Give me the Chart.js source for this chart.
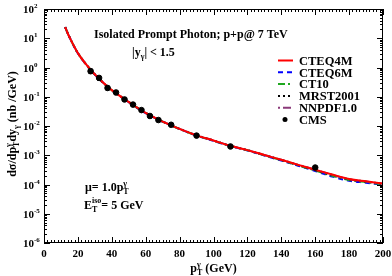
<!DOCTYPE html>
<html>
<head>
<meta charset="utf-8">
<script src="https://cdn.jsdelivr.net/npm/chart.js@4.4.0/dist/chart.umd.min.js"></script>
<style>
  html, body { margin: 0; padding: 0; background: #fff; }
</style>
</head>
<body>
<canvas id="myChart" width="392" height="276"></canvas>
<script>
// theory curves (pT in GeV, d sigma in nb/GeV)
const ptTheory = [12.5, 15, 20, 25, 30, 35, 40, 50, 60, 70, 80, 90, 100, 110, 120, 130, 140, 150, 160, 170, 180, 190, 200];
const cteq4m = [24, 11, 3.1, 1.25, 0.58, 0.30, 0.168, 0.066, 0.028, 0.0142, 0.0080, 0.0048, 0.0032, 0.0021, 0.00150, 0.00102, 0.00070, 0.00047, 0.00032, 0.00022, 0.000155, 0.000128, 0.000108];
const cteq6m = [24, 11, 3.05, 1.23, 0.57, 0.295, 0.165, 0.065, 0.0275, 0.0140, 0.0079, 0.0047, 0.0031, 0.00205, 0.00146, 0.00098, 0.00066, 0.00044, 0.00029, 0.000188, 0.000135, 0.000115, 0.000098];
const ct10 = [24, 11, 3.1, 1.24, 0.58, 0.30, 0.167, 0.066, 0.028, 0.0141, 0.0079, 0.0047, 0.00315, 0.00208, 0.00148, 0.00100, 0.00068, 0.00045, 0.00030, 0.000198, 0.000142, 0.000120, 0.000102];
const mrst2001 = [24, 11, 3.1, 1.25, 0.585, 0.30, 0.168, 0.066, 0.028, 0.0142, 0.0080, 0.0048, 0.0032, 0.0021, 0.00150, 0.00101, 0.00069, 0.00046, 0.00031, 0.00021, 0.000150, 0.000125, 0.000105];
const nnpdf10 = [24, 11, 3.1, 1.25, 0.58, 0.30, 0.168, 0.066, 0.028, 0.0142, 0.0080, 0.0048, 0.0032, 0.0021, 0.00150, 0.00102, 0.00070, 0.00047, 0.00032, 0.000215, 0.000152, 0.000126, 0.000106];

// CMS data
const ptCms = [27.5, 32.5, 37.5, 42.5, 47.5, 52.5, 57.5, 62.5, 67.5, 75, 90, 110, 160];
const cms = [0.75, 0.44, 0.20, 0.14, 0.081, 0.054, 0.035, 0.022, 0.016, 0.011, 0.0047, 0.0020, 0.00038];
const cmsErr = [0.13, 0.07, 0.03, 0.02, 0.01, 0.007, 0.004, 0.003, 0.002, 0.0012, 0.0005, 0.0002, 0.00004];

// axis ticks
const xTicks = [0, 20, 40, 60, 80, 100, 120, 140, 160, 180, 200];
const yExps = [-6, -5, -4, -3, -2, -1, 0, 1, 2];

const serif = '"Liberation Serif", "Times New Roman", serif';

function pts(xs, ys) {
    return xs.map((x, i) => ({ x: x, y: ys[i] }));
}

// draw text made of pieces (sub/superscripts); stack = reuse x of previous piece
function richText(ctx, parts, x, y, align) {
    let w = 0, px = 0, prevW = 0;
    parts.forEach(p => {
        ctx.font = 'bold ' + p.s + 'px ' + serif;
        const pw = ctx.measureText(p.t).width;
        if (p.stack) { w = Math.max(w, px - prevW + pw); px = Math.max(px, px - prevW + pw); }
        else { px += pw; w = px; prevW = pw; }
    });
    let cx = align === 'center' ? x - w / 2 : x;
    let start = cx;
    ctx.textAlign = 'left';
    ctx.textBaseline = 'alphabetic';
    parts.forEach(p => {
        ctx.font = 'bold ' + p.s + 'px ' + serif;
        const pw = ctx.measureText(p.t).width;
        if (p.stack) {
            ctx.fillText(p.t, start, y + (p.dy || 0));
            cx = Math.max(cx, start + pw);
        } else {
            start = cx;
            ctx.fillText(p.t, cx, y + (p.dy || 0));
            cx += pw;
        }
    });
}

const legendItems = [
    { label: 'CTEQ4M', color: '#ff0000', dash: [] },
    { label: 'CTEQ6M', color: '#0000ff', dash: [5, 4] },
    { label: 'CT10', color: '#1fa81f', dash: [7, 3, 2, 3] },
    { label: 'MRST2001', color: '#000000', dash: [2, 3] },
    { label: 'NNPDF1.0', color: '#8b3a7a', dash: [2, 3, 8, 2] },
    { label: 'CMS', color: '#000000', point: true }
];

const framePlugin = {
    id: 'frame',
    afterDatasetsDraw(chart) {
        const { ctx, scales: { x, y } } = chart;
        ctx.save();
        ctx.strokeStyle = '#000';
        ctx.lineWidth = 1;
        cms.forEach((v, i) => {
            const px = x.getPixelForValue(ptCms[i]);
            const y1 = y.getPixelForValue(v + cmsErr[i]);
            const y2 = y.getPixelForValue(v - cmsErr[i]);
            ctx.beginPath();
            ctx.moveTo(px, y1); ctx.lineTo(px, y2);
            ctx.moveTo(px - 2, y1); ctx.lineTo(px + 2, y1);
            ctx.moveTo(px - 2, y2); ctx.lineTo(px + 2, y2);
            ctx.stroke();
        });
        ctx.restore();
    },
    afterDraw(chart) {
        const { ctx, chartArea: a, scales: { x, y } } = chart;
        ctx.save();
        ctx.strokeStyle = '#000';
        ctx.fillStyle = '#000';
        ctx.lineWidth = 1;
        ctx.strokeRect(a.left + 0.5, a.top + 0.5, a.right - a.left - 1, a.bottom - a.top - 1);

        // x ticks (inward, top and bottom)
        ctx.beginPath();
        for (let v = 0; v <= 200; v += 2) {
            const px = Math.round(x.getPixelForValue(v)) + 0.5;
            const len = v % 20 === 0 ? 6 : 3;
            ctx.moveTo(px, a.bottom); ctx.lineTo(px, a.bottom - len);
            ctx.moveTo(px, a.top); ctx.lineTo(px, a.top + len);
        }
        // y ticks (log, inward, left and right)
        yExps.forEach(e => {
            for (let m = 1; m <= 9; m++) {
                if (e === 2 && m > 1) break;
                const py = Math.round(y.getPixelForValue(m * Math.pow(10, e))) + 0.5;
                const len = m === 1 ? 6 : 3;
                ctx.moveTo(a.left, py); ctx.lineTo(a.left + len, py);
                ctx.moveTo(a.right, py); ctx.lineTo(a.right - len, py);
            }
        });
        ctx.stroke();

        // tick labels
        ctx.font = 'bold 11px ' + serif;
        ctx.textAlign = 'center';
        ctx.textBaseline = 'alphabetic';
        xTicks.forEach(v => ctx.fillText(String(v), x.getPixelForValue(v), a.bottom + 14));
        yExps.forEach(e => {
            const py = y.getPixelForValue(Math.pow(10, e));
            ctx.font = 'bold 11px ' + serif;
            ctx.textAlign = 'right';
            ctx.fillText('10', a.left - 10, py + 4);
            ctx.font = 'bold 7px ' + serif;
            ctx.textAlign = 'left';
            ctx.fillText(String(e), a.left - 10, py - 1);
        });

        // axis titles
        richText(ctx, [
            { t: 'p', s: 12 }, { t: 'γ', s: 8, dy: -5 }, { t: 'T', s: 8, dy: 3, stack: true },
            { t: ' (GeV)', s: 12 }
        ], (a.left + a.right) / 2, a.bottom + 29, 'center');
        ctx.save();
        ctx.translate(16, 124);
        ctx.rotate(-Math.PI / 2);
        richText(ctx, [
            { t: 'dσ/dp', s: 12 }, { t: 'γ', s: 8, dy: -5 }, { t: 'T', s: 8, dy: 3, stack: true },
            { t: 'dy', s: 12 }, { t: 'γ', s: 8, dy: 3 }, { t: ' (nb /GeV)', s: 12 }
        ], 0, 0, 'center');
        ctx.restore();

        // annotations
        richText(ctx, [{ t: 'Isolated Prompt Photon; p+p@ 7 TeV', s: 12 }], 94, 38);
        richText(ctx, [{ t: '|y', s: 12 }, { t: 'γ', s: 8, dy: 3 }, { t: '| < 1.5', s: 12 }], 132, 56);
        richText(ctx, [{ t: 'μ= 1.0p', s: 12 }, { t: 'γ', s: 8, dy: -5 }, { t: 'T', s: 8, dy: 3, stack: true }], 85, 191);
        richText(ctx, [{ t: 'E', s: 12 }, { t: 'T', s: 8, dy: 3 }, { t: 'iso', s: 8, dy: -6, stack: true }, { t: '= 5 GeV', s: 12 }], 84, 209);

        // legend
        legendItems.forEach((it, i) => {
            const ly = 60.5 + i * 11.8;
            ctx.strokeStyle = it.color;
            ctx.fillStyle = it.color;
            if (it.point) {
                ctx.beginPath();
                ctx.arc(285, ly, 2.5, 0, Math.PI * 2);
                ctx.fill();
            } else {
                ctx.lineWidth = 2;
                ctx.setLineDash(it.dash);
                ctx.beginPath();
                ctx.moveTo(278, ly); ctx.lineTo(293, ly);
                ctx.stroke();
                ctx.setLineDash([]);
            }
            ctx.fillStyle = '#000';
            ctx.font = 'bold 12.5px ' + serif;
            ctx.textAlign = 'left';
            ctx.textBaseline = 'middle';
            ctx.fillText(it.label, 299, ly + 1);
        });
        ctx.restore();
    }
};

function curve(label, data, color, dash, order) {
    return {
        label: label,
        data: pts(ptTheory, data),
        borderColor: color,
        borderDash: dash,
        borderWidth: 2,
        pointRadius: 0,
        fill: false,
        tension: 0.35,
        order: order
    };
}

new Chart(document.getElementById('myChart'), {
    type: 'line',
    data: {
        datasets: [
            {
                label: 'CMS',
                data: pts(ptCms, cms),
                showLine: false,
                pointRadius: 2.8,
                pointBackgroundColor: '#000',
                pointBorderColor: '#000',
                order: 0
            },
            curve('CTEQ4M', cteq4m, '#ff0000', [], 1),
            curve('NNPDF1.0', nnpdf10, '#8b3a7a', [2, 3, 8, 2], 2),
            curve('MRST2001', mrst2001, '#000000', [2, 3], 3),
            curve('CT10', ct10, '#1fa81f', [7, 3, 2, 3], 4),
            curve('CTEQ6M', cteq6m, '#0000ff', [5, 4], 5)
        ]
    },
    options: {
        responsive: false,
        animation: false,
        layout: { padding: { left: 44, right: 9, top: 9, bottom: 33 } },
        plugins: { legend: { display: false }, tooltip: { enabled: false } },
        scales: {
            x: { type: 'linear', min: 0, max: 200, display: false },
            y: { type: 'logarithmic', min: 1e-6, max: 100, display: false }
        }
    },
    plugins: [framePlugin]
});
</script>
</body>
</html>
